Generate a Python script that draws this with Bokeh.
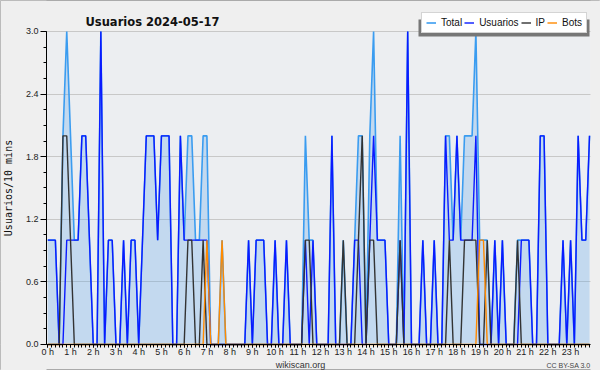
from bokeh.plotting import figure
from bokeh.models import (ColumnDataSource, FixedTicker, Legend, LegendItem, Label,
                          BoxAnnotation, Range1d, CustomJSTickFormatter)
from bokeh.embed import file_html
from bokeh.resources import INLINE

# 10-minute slots over the day (minutes since midnight)
minutes = list(range(0, 1440, 10))

total = [1, 1, 1, 0, 2, 3, 2, 1, 1, 2, 2, 1, 0, 0, 3, 0, 1, 1, 0, 0, 1, 0, 1, 1,
         0, 1, 2, 2, 2, 1, 2, 2, 2, 0, 0, 2, 1, 2, 2, 1, 1, 2, 2, 0, 0, 0, 1, 0,
         0, 0, 0, 0, 0, 1, 0, 1, 1, 1, 0, 0, 1, 0, 0, 1, 0, 0, 0, 0, 2, 1, 1, 0,
         0, 0, 0, 2, 0, 0, 1, 0, 0, 1, 2, 2, 0, 2, 3, 1, 1, 1, 0, 0, 0, 2, 0, 3,
         0, 0, 0, 1, 0, 0, 1, 0, 0, 2, 2, 1, 2, 1, 2, 2, 2, 3, 1, 1, 1, 0, 1, 0,
         1, 0, 0, 0, 1, 1, 1, 1, 0, 0, 2, 2, 0, 0, 0, 0, 1, 0, 1, 0, 2, 1, 1, 2]

usuarios = [1, 1, 1, 0, 0, 1, 1, 1, 1, 2, 2, 1, 0, 0, 3, 0, 1, 1, 0, 0, 1, 0, 1, 1,
            0, 1, 2, 2, 2, 1, 2, 2, 2, 0, 0, 2, 1, 1, 1, 1, 1, 1, 1, 0, 0, 0, 0, 0,
            0, 0, 0, 0, 0, 1, 0, 1, 1, 1, 0, 0, 1, 0, 0, 1, 0, 0, 0, 0, 1, 0, 1, 0,
            0, 0, 0, 2, 0, 0, 0, 0, 0, 1, 1, 0, 0, 1, 2, 1, 1, 1, 0, 0, 0, 1, 0, 3,
            0, 0, 0, 1, 0, 0, 1, 0, 0, 2, 1, 1, 2, 1, 1, 1, 1, 2, 0, 0, 0, 0, 1, 0,
            1, 0, 0, 0, 0, 1, 1, 1, 0, 0, 2, 2, 0, 0, 0, 0, 1, 0, 1, 0, 2, 1, 1, 2]

ip = [0, 0, 0, 0, 2, 2, 1, 0, 0, 0, 0, 0, 0, 0, 0, 0, 0, 0, 0, 0, 0, 0, 0, 0,
      0, 0, 0, 0, 0, 0, 0, 0, 0, 0, 0, 0, 0, 1, 1, 0, 0, 1, 0, 0, 0, 0, 0, 0,
      0, 0, 0, 0, 0, 0, 0, 0, 0, 0, 0, 0, 0, 0, 0, 0, 0, 0, 0, 0, 1, 1, 0, 0,
      0, 0, 0, 0, 0, 0, 1, 0, 0, 0, 1, 2, 0, 1, 1, 0, 0, 0, 0, 0, 0, 1, 0, 0,
      0, 0, 0, 0, 0, 0, 0, 0, 0, 0, 1, 0, 0, 0, 1, 1, 1, 1, 0, 0, 1, 0, 0, 0,
      0, 0, 0, 0, 1, 0, 0, 0, 0, 0, 0, 0, 0, 0, 0, 0, 0, 0, 0, 0, 0, 0, 0, 0]

bots = [0, 0, 0, 0, 0, 0, 0, 0, 0, 0, 0, 0, 0, 0, 0, 0, 0, 0, 0, 0, 0, 0, 0, 0,
        0, 0, 0, 0, 0, 0, 0, 0, 0, 0, 0, 0, 0, 0, 0, 0, 0, 0, 1, 0, 0, 0, 1, 0,
        0, 0, 0, 0, 0, 0, 0, 0, 0, 0, 0, 0, 0, 0, 0, 0, 0, 0, 0, 0, 0, 0, 0, 0,
        0, 0, 0, 0, 0, 0, 0, 0, 0, 0, 0, 0, 0, 0, 0, 0, 0, 0, 0, 0, 0, 0, 0, 0,
        0, 0, 0, 0, 0, 0, 0, 0, 0, 0, 0, 0, 0, 0, 0, 0, 0, 0, 1, 1, 0, 0, 0, 0,
        0, 0, 0, 0, 0, 0, 0, 0, 0, 0, 0, 0, 0, 0, 0, 0, 0, 0, 0, 0, 0, 0, 0, 0]

hour_ticks = list(range(24))
hour_labels = [f"{h} h" for h in hour_ticks]
y_ticks = [0.0, 0.6, 1.2, 1.8, 2.4, 3.0]
series_names = ["Total", "Usuarios", "IP", "Bots"]
title_text = "Usuarios  2024-05-17"
site_text = "wikiscan.org"
license_text = "CC BY-SA 3.0"

hours = [m / 60 for m in minutes]
src = ColumnDataSource(dict(x=hours, total=total, usuarios=usuarios, ip=ip, bots=bots))

# The frame covers the whole figure; both axes are pinned inside it.
FIG_W, FIG_H = 600, 370
X0, X1 = -2.081, 24.316       # full frame (hours)
XA, XB = -0.0572, 23.876      # plot area (hours): y axis at XA, x axis ends at XB
Y0, Y1 = -0.2492, 3.2971      # full frame (users)

p = figure(width=FIG_W, height=FIG_H, output_backend="svg", toolbar_location=None,
           x_range=Range1d(X0, X1), y_range=Range1d(Y0, Y1),
           min_border_left=0, min_border_right=0, min_border_top=0, min_border_bottom=0)

OUTER = "#efefef"
p.border_fill_color = OUTER
p.background_fill_color = OUTER
p.outline_line_color = "#aaaaaa"
p.outline_line_width = 1

# plot-area background between the axes
p.add_layout(BoxAnnotation(left=XA, right=XB, bottom=0, top=3.0, fill_color="#eceef1",
                           fill_alpha=1.0, line_color=None, level="image"))

# grid
p.xgrid.grid_line_color = None
p.ygrid.grid_line_color = "#c8c8c8"
p.ygrid.grid_line_width = 1
# keep grid lines inside the plot area
p.add_layout(BoxAnnotation(right=XA, fill_color=OUTER, fill_alpha=1.0, line_color=None,
                           level="underlay"))
p.add_layout(BoxAnnotation(left=XB, fill_color=OUTER, fill_alpha=1.0, line_color=None,
                           level="underlay"))

# y axis, pinned at the start of the day
p.yaxis.fixed_location = XA
p.yaxis.ticker = FixedTicker(ticks=y_ticks, minor_ticks=[k * 0.15 for k in range(21)])
p.yaxis.formatter = CustomJSTickFormatter(code="return tick.toFixed(1);")
p.yaxis.bounds = (0, 3.0)
p.yaxis.axis_label = "Usuarios/10 mins"
p.yaxis.axis_label_text_font = "DejaVu Sans Mono"
p.yaxis.axis_label_text_font_size = "10px"
p.yaxis.axis_label_text_font_style = "normal"
p.yaxis.axis_label_text_color = "#111111"
p.yaxis.axis_label_standoff = 9
p.yaxis.major_tick_out = 6
p.yaxis.major_tick_in = 0
p.yaxis.minor_tick_out = 3
p.yaxis.minor_tick_in = 0
p.yaxis.major_label_standoff = 2

# x axis (hours), pinned at y = 0
p.xaxis.fixed_location = 0
p.xaxis.ticker = FixedTicker(ticks=hour_ticks, minor_ticks=[k / 6 for k in range(144)])
p.xaxis.major_label_overrides = {h: lab for h, lab in zip(hour_ticks, hour_labels)}
p.xaxis.bounds = (XA, XB)
p.xaxis.major_tick_out = 3
p.xaxis.major_tick_in = 0
p.xaxis.minor_tick_out = 3
p.xaxis.minor_tick_in = 0
p.xaxis.major_label_standoff = 0

for ax in (p.xaxis[0], p.yaxis[0]):
    ax.axis_line_color = "#000000"
    ax.axis_line_width = 1
    ax.major_tick_line_color = "#000000"
    ax.minor_tick_line_color = "#000000"
    ax.major_label_text_font = "Liberation Sans"
    ax.major_label_text_font_size = "9px"
    ax.major_label_text_color = "#222222"

# series
p.varea(x="x", y1=0, y2="total", source=src, fill_color="#5aa5ea", fill_alpha=0.28)
r_total = p.line("x", "total", source=src, line_color="#3a9cf0", line_width=1.6)
r_users = p.line("x", "usuarios", source=src, line_color="#0a1aff", line_width=1.4)
r_ip = p.line("x", "ip", source=src, line_color="#333333", line_width=1.4)
r_bots = p.line("x", "bots", source=src, line_color="#ff8a00", line_width=1.4)

# title
p.add_layout(Label(x=85, y=FIG_H - 21.5, x_units="screen", y_units="screen", text=title_text,
                   text_font="DejaVu Sans", text_font_size="11.5px", text_font_style="bold",
                   text_color="#111111", text_align="left", text_baseline="alphabetic"))

# credits under the hour labels
p.add_layout(Label(x=300, y=FIG_H - 364, x_units="screen", y_units="screen", text=site_text,
                   text_font="Liberation Sans", text_font_size="9px", text_color="#333333",
                   text_align="center", text_baseline="alphabetic"))
p.add_layout(Label(x=590, y=FIG_H - 365, x_units="screen", y_units="screen", text=license_text,
                   text_font="Liberation Sans", text_font_size="7px", text_color="#444444",
                   text_align="right", text_baseline="alphabetic"))

# legend (overlapping the top of the plot area) with a drop shadow
LX, LW, LH = 421, 171, 17
LY = FIG_H - 33            # bottom edge of the legend box, from the frame bottom
p.add_layout(BoxAnnotation(left=LX - 3, right=LX + LW - 3, bottom=LY - 3, top=LY + LH - 3,
                           left_units="screen", right_units="screen",
                           bottom_units="screen", top_units="screen",
                           fill_color="#777777", fill_alpha=1.0, line_color=None))

legend = Legend(items=[LegendItem(label=n, renderers=[r])
                       for n, r in zip(series_names, [r_total, r_users, r_ip, r_bots])],
                orientation="horizontal", location=(LX, LY))
legend.label_text_font = "Liberation Sans"
legend.label_text_font_size = "10px"
legend.label_text_color = "#111111"
legend.glyph_width = 10
legend.glyph_height = 9
legend.label_standoff = 5
legend.label_width = 1
legend.spacing = 2
legend.padding = 4
legend.margin = 0
legend.label_height = 9
legend.border_line_color = "#aaaaaa"
legend.border_line_width = 1
legend.background_fill_color = "#ffffff"
legend.background_fill_alpha = 1.0
p.add_layout(legend)

open("out.html", "w").write(file_html(p, INLINE))
